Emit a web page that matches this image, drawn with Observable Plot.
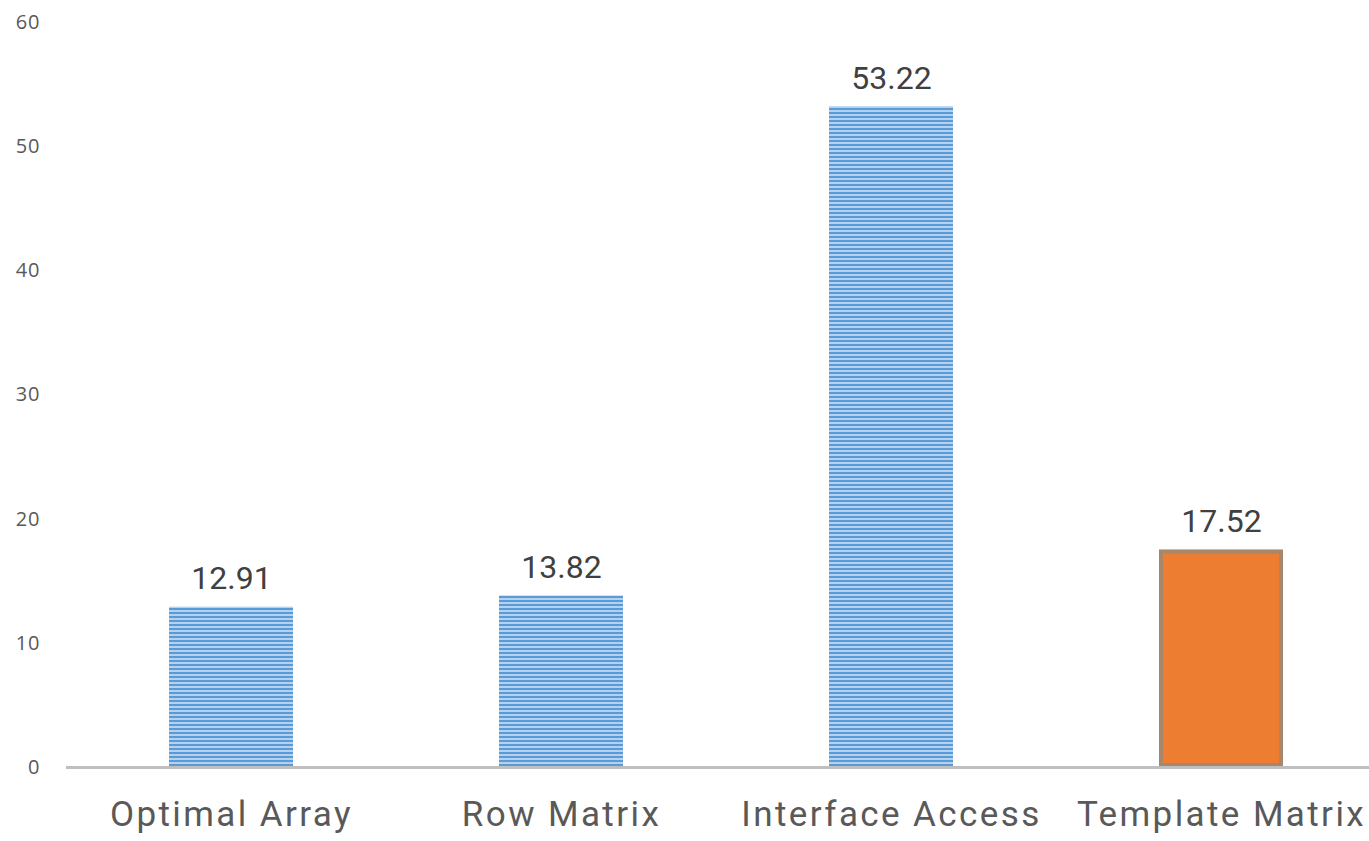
<!DOCTYPE html>
<html>
<head>
<meta charset="utf-8">
<script src="https://cdn.jsdelivr.net/npm/d3@7"></script>
<script src="https://cdn.jsdelivr.net/npm/@observablehq/plot@0.6"></script>
<style>
  body { margin: 0; background: #fff; }
  #chart svg { display: block; }
  #chart g[aria-label="x-axis tick label"] text { letter-spacing: 2.4px; }
  #chart g[aria-label="y-axis tick label"] text { letter-spacing: 1px; }
</style>
</head>
<body>
<div id="chart"></div>
<script>
// Categories and their measured values
const categories = ["Optimal Array", "Row Matrix", "Interface Access", "Template Matrix"];
const values = [12.91, 13.82, 53.22, 17.52];
// The one category drawn in solid orange
const highlighted = ["Template Matrix"];
// Y axis tick labels
const yTicks = [0, 10, 20, 30, 40, 50, 60];

const data = categories.map((category, i) => ({category, value: values[i]}));
const striped = data.filter(d => !highlighted.includes(d.category));
const solid = data.filter(d => highlighted.includes(d.category));

const chart = Plot.plot({
  width: 1369,
  height: 841,
  marginLeft: 66,
  marginRight: 0,
  marginTop: 22,
  marginBottom: 74,
  style: {fontFamily: "Roboto, 'Liberation Sans', sans-serif", background: "#fff"},
  x: {domain: categories, range: [66, 1386], paddingInner: 0.624, paddingOuter: 0.312, label: null},
  y: {domain: [0, 60], label: null},
  marks: [
    Plot.axisY({ticks: yTicks, tickSize: 0, tickPadding: 26, fontSize: 20, fill: "#595959",
      fontFamily: "'Open Sans', sans-serif", label: null}),
    Plot.axisX({tickSize: 0, tickPadding: 34, fontSize: 35, fill: "#595959",
      fontFamily: "Roboto, sans-serif", label: null}),
    Plot.barY(striped, {x: "category", y: "value", fill: "url(#hstripes)"}),
    Plot.barY(solid, {x: "category", y: "value", fill: "#ed7d31", stroke: "#a8866c", strokeWidth: 4, inset: 2}),
    Plot.ruleY([0], {stroke: "#bfbfbf", strokeWidth: 3}),
    Plot.text(data, {x: "category", y: "value", text: d => d.value.toFixed(2), dy: -18,
      lineAnchor: "bottom", fontSize: 32, fill: "#404040"})
  ]
});

// Horizontal-line pattern for the blue bars
const svg = d3.select(chart);
const defs = svg.insert("defs", ":first-child");
const pat = defs.append("pattern")
  .attr("id", "hstripes")
  .attr("patternUnits", "userSpaceOnUse")
  .attr("width", 8)
  .attr("height", 4);
pat.append("rect").attr("width", 8).attr("height", 4).attr("fill", "#b3d1f0");
pat.append("rect").attr("y", 0).attr("width", 8).attr("height", 2).attr("fill", "#5b9bd5");

document.getElementById("chart").appendChild(chart);
</script>
</body>
</html>
